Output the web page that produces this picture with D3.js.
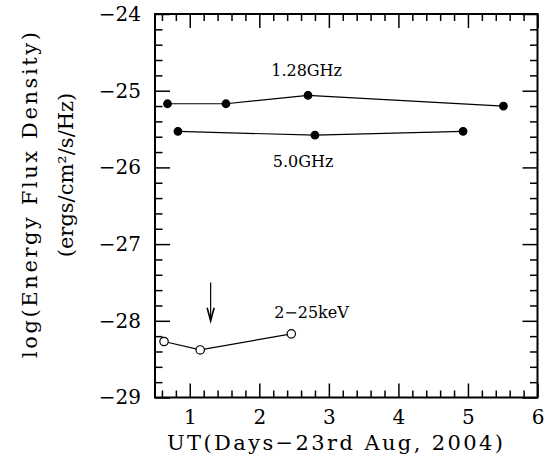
<!DOCTYPE html>
<html>
<head>
<meta charset="utf-8">
<script src="https://cdn.jsdelivr.net/npm/d3@7"></script>
<style>
  body { margin: 0; background: #fff; }
  svg text { font-family: "DejaVu Serif", serif; fill: #000; }
</style>
</head>
<body>
<div id="chart"></div>
<script>
// 1.28 GHz radio fluxes (filled circles)
var ghz128_days = [0.68, 1.52, 2.70, 5.51];
var ghz128_flux = [-25.17, -25.17, -25.06, -25.20];
// 5.0 GHz radio fluxes (filled circles)
var ghz50_days = [0.83, 2.80, 4.93];
var ghz50_flux = [-25.53, -25.58, -25.53];
// 2-25 keV X-ray fluxes (open circles)
var xray_days = [0.63, 1.15, 2.46];
var xray_flux = [-28.27, -28.38, -28.17];
// arrow marker
var arrow_day = 1.3;
var arrow_flux = [-27.50, -28.00];

var series_labels = [
   { text: "1.28GHz", day: 2.68, flux: -24.81 },
   { text: "5.0GHz", day: 2.63, flux: -26.0 },
   { text: "2\u221225keV", day: 2.75, flux: -27.97 }
];

var x_major = [1, 2, 3, 4, 5, 6];
var y_major = [-29, -28, -27, -26, -25, -24];

var W = 560, H = 468;
var plot_l = 155, plot_r = 537.5, plot_t = 14, plot_b = 397.5;

var x = d3.scaleLinear().domain([0.5, 6]).range([plot_l, plot_r]);
var y = d3.scaleLinear().domain([-29, -24]).range([plot_b, plot_t]);

var x_minor = d3.range(0.6, 6.0001, 0.2).filter(function(d) { return Math.abs(d - Math.round(d)) > 0.01; });
var y_minor = d3.range(-28.8, -24.0001, 0.2).filter(function(d) { return Math.abs(d - Math.round(d)) > 0.01; });

var svg = d3.select("#chart").append("svg").attr("width", W).attr("height", H);

function style_axis(g, hide_text) {
   g.select(".domain").remove();
   g.selectAll("line").attr("stroke", "#000").attr("stroke-width", 1.5);
   if (hide_text) g.selectAll("text").remove();
   g.selectAll("text").style("font-size", "20px").attr("fill", "#000");
}

// major + minor ticks, all four sides
svg.append("g").attr("transform", "translate(0," + plot_b + ")")
   .call(d3.axisBottom(x).tickValues(x_major).tickSize(-14).tickPadding(12).tickFormat(d3.format("d")))
   .call(function(g) { style_axis(g, false); });
svg.append("g").attr("transform", "translate(0," + plot_b + ")")
   .call(d3.axisBottom(x).tickValues(x_minor).tickSize(-7).tickFormat(""))
   .call(function(g) { style_axis(g, true); });
svg.append("g").attr("transform", "translate(0," + plot_t + ")")
   .call(d3.axisTop(x).tickValues(x_major).tickSize(-14).tickFormat(""))
   .call(function(g) { style_axis(g, true); });
svg.append("g").attr("transform", "translate(0," + plot_t + ")")
   .call(d3.axisTop(x).tickValues(x_minor).tickSize(-7).tickFormat(""))
   .call(function(g) { style_axis(g, true); });

svg.append("g").attr("transform", "translate(" + plot_l + ",0)")
   .call(d3.axisLeft(y).tickValues(y_major).tickSize(-15).tickPadding(14).tickFormat(d3.format("d")))
   .call(function(g) { style_axis(g, false); });
svg.append("g").attr("transform", "translate(" + plot_l + ",0)")
   .call(d3.axisLeft(y).tickValues(y_minor).tickSize(-7.5).tickFormat(""))
   .call(function(g) { style_axis(g, true); });
svg.append("g").attr("transform", "translate(" + plot_r + ",0)")
   .call(d3.axisRight(y).tickValues(y_major).tickSize(-15).tickFormat(""))
   .call(function(g) { style_axis(g, true); });
svg.append("g").attr("transform", "translate(" + plot_r + ",0)")
   .call(d3.axisRight(y).tickValues(y_minor).tickSize(-7.5).tickFormat(""))
   .call(function(g) { style_axis(g, true); });

// frame
svg.append("rect").attr("x", plot_l).attr("y", plot_t)
   .attr("width", plot_r - plot_l).attr("height", plot_b - plot_t)
   .attr("fill", "none").attr("stroke", "#000").attr("stroke-width", 2);

var line = d3.line().x(function(d) { return x(d[0]); }).y(function(d) { return y(d[1]); });

function draw_series(days, flux, filled) {
   var pts = d3.zip(days, flux);
   svg.append("path").datum(pts).attr("d", line)
      .attr("fill", "none").attr("stroke", "#000").attr("stroke-width", 1.2);
   svg.append("g").selectAll("circle").data(pts).enter().append("circle")
      .attr("cx", function(d) { return x(d[0]); })
      .attr("cy", function(d) { return y(d[1]); })
      .attr("r", filled ? 3.8 : 4.2)
      .attr("fill", filled ? "#000" : "#fff")
      .attr("stroke", "#000").attr("stroke-width", 1.2);
}
draw_series(ghz128_days, ghz128_flux, true);
draw_series(ghz50_days, ghz50_flux, true);
draw_series(xray_days, xray_flux, false);

// arrow
var ax = x(arrow_day), ay0 = y(arrow_flux[0]), ay1 = y(arrow_flux[1]);
svg.append("line").attr("x1", ax).attr("x2", ax).attr("y1", ay0).attr("y2", ay1)
   .attr("stroke", "#000").attr("stroke-width", 1.2);
svg.append("path")
   .attr("d", "M" + (ax - 3.5) + "," + (ay1 - 13) + "L" + ax + "," + ay1 + "L" + (ax + 3.5) + "," + (ay1 - 13))
   .attr("fill", "none").attr("stroke", "#000").attr("stroke-width", 1.6);

svg.append("g").selectAll("text").data(series_labels).enter().append("text")
   .attr("x", function(d) { return x(d.day); })
   .attr("y", function(d) { return y(d.flux); })
   .attr("text-anchor", "middle")
   .style("font-size", "16px")
   .text(function(d) { return d.text; });

// axis titles
svg.append("text").attr("x", 335).attr("y", 450).attr("text-anchor", "middle")
   .attr("textLength", 336).attr("lengthAdjust", "spacing")
   .style("font-size", "21px").text("UT(Days\u221223rd Aug, 2004)");
svg.append("text").attr("transform", "translate(37,195) rotate(-90)").attr("text-anchor", "middle")
   .attr("textLength", 326).attr("lengthAdjust", "spacing")
   .style("font-size", "21px").text("log(Energy Flux Density)");
svg.append("text").attr("transform", "translate(73,175) rotate(-90)").attr("text-anchor", "middle")
   .style("font-size", "21px").text("(ergs/cm\u00b2/s/Hz)");
</script>
</body>
</html>
